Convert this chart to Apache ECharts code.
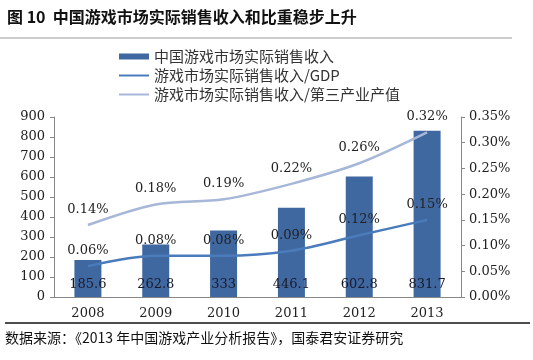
<!DOCTYPE html>
<html><head><meta charset="utf-8">
<script src="https://cdn.jsdelivr.net/npm/echarts@6/dist/echarts.min.js"></script>
<style>html,body{margin:0;padding:0;background:#fff}#c{width:533px;height:360px}</style>
</head><body><div id="c"></div>
<script>
var years = ['2008','2009','2010','2011','2012','2013'];
var revenue = [185.6, 262.8, 333, 446.1, 602.8, 831.7];
var ratioGDP = [0.06, 0.08, 0.08, 0.09, 0.12, 0.15];
var ratioTertiary = [0.14, 0.18, 0.19, 0.22, 0.26, 0.32];
var seriesNames = ['中国游戏市场实际销售收入', '游戏市场实际销售收入/GDP', '游戏市场实际销售收入/第三产业产值'];
var titleText = '图 10  中国游戏市场实际销售收入和比重稳步上升';
var sourceText = '数据来源：《2013 年中国游戏产业分析报告》，国泰君安证券研究';

var serif = '"DejaVu Serif", "Liberation Serif", serif';
var cjk = '"Noto Sans CJK SC", sans-serif';
var chart = echarts.init(document.getElementById('c'));
chart.setOption({
  animation: false,
  backgroundColor: '#fff',
  grid: {left: 54, right: 72, top: 117, bottom: 63},
  legend: {
    orient: 'vertical', left: 113, top: 44, itemWidth: 30, itemHeight: 6, itemGap: 4,
    textStyle: {fontFamily: cjk, fontSize: 15, color: '#333'},
    data: [
      {name: seriesNames[0], icon: 'rect'},
      {name: seriesNames[1]},
      {name: seriesNames[2]}
    ]
  },
  xAxis: {
    type: 'category', data: years,
    axisLine: {lineStyle: {color: '#888'}},
    axisTick: {lineStyle: {color: '#888'}, length: 4},
    axisLabel: {fontFamily: serif, fontSize: 13, color: '#222', margin: 10}
  },
  yAxis: [{
    type: 'value', min: 0, max: 900, interval: 100,
    axisLine: {show: true, lineStyle: {color: '#888'}},
    axisTick: {show: true, length: 4, lineStyle: {color: '#888'}},
    splitLine: {show: false},
    axisLabel: {fontFamily: serif, fontSize: 13, color: '#222', margin: 9}
  }, {
    type: 'value', min: 0, max: 0.35, interval: 0.05, position: 'right',
    axisLine: {show: true, lineStyle: {color: '#888'}},
    axisTick: {show: true, length: 4, lineStyle: {color: '#888'}},
    splitLine: {show: false},
    axisLabel: {fontFamily: serif, fontSize: 13, color: '#222', margin: 8,
      formatter: function(v){ return v.toFixed(2) + '%'; }}
  }],
  series: [{
    name: seriesNames[0], type: 'bar', data: revenue, barWidth: 27,
    itemStyle: {color: '#3f67a0'},
    label: {show: true, position: 'insideBottom', distance: 6, fontFamily: serif, fontSize: 13, color: '#1a1a2a',
      formatter: function(p){ return String(p.value); }}
  }, {
    name: seriesNames[1], type: 'line', yAxisIndex: 1, data: ratioGDP, smooth: 0.3,
    symbol: 'circle', symbolSize: 2, showSymbol: true,
    lineStyle: {color: '#4a7cbb', width: 2.5}, itemStyle: {color: 'rgba(0,0,0,0)', borderWidth: 0},
    label: {show: true, position: 'top', distance: 8, fontFamily: serif, fontSize: 13, color: '#222',
      formatter: function(p){ return p.value.toFixed(2) + '%'; }}
  }, {
    name: seriesNames[2], type: 'line', yAxisIndex: 1, data: ratioTertiary, smooth: 0.3,
    symbol: 'circle', symbolSize: 2, showSymbol: true,
    lineStyle: {color: '#a6b7d8', width: 2.5}, itemStyle: {color: 'rgba(0,0,0,0)', borderWidth: 0},
    label: {show: true, position: 'top', distance: 8, fontFamily: serif, fontSize: 13, color: '#222',
      formatter: function(p){ return p.value.toFixed(2) + '%'; }}
  }],
  graphic: [
    {type: 'text', left: 7, top: 9, style: {text: titleText, font: 'bold 16px ' + cjk, fill: '#111'}},
    {type: 'line', shape: {x1: 0, y1: 38, x2: 512, y2: 38}, style: {stroke: '#999', lineWidth: 1}},
    {type: 'line', shape: {x1: 5, y1: 323, x2: 530, y2: 323}, style: {stroke: '#111', lineWidth: 1.5}},
    {type: 'text', left: 5, top: 331, style: {text: sourceText, font: '14px ' + cjk, fill: '#111'}}
  ]
});
</script></body></html>
